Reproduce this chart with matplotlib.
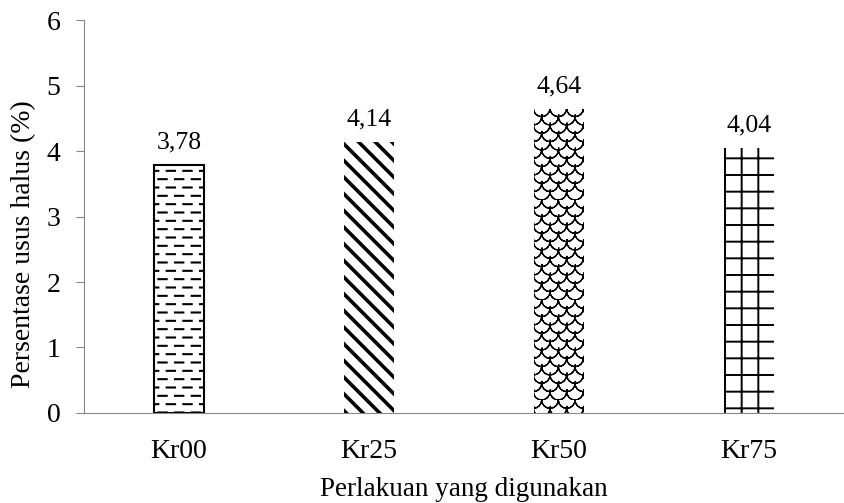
import matplotlib
matplotlib.use("Agg")
import numpy as np
import matplotlib.pyplot as plt
import matplotlib.hatch as mhatch
from matplotlib.path import Path

categories = ["Kr00", "Kr25", "Kr50", "Kr75"]
values = [3.78, 4.14, 4.64, 4.04]
value_labels = ["3,78", "4,14", "4,64", "4,04"]
# 'o' -> staggered dashes, 'O' -> fish scales (custom hatches defined below)
hatches = ["o", "\\\\", "O", "+"]
edge_widths = [1.5, 0, 0, 0]
hatch_widths = [1.5, 2.6, 0.9, 1.4]


class DashHatch(mhatch.HatchPatternBase):
    """Rows of short dashes, every other row shifted half a step."""
    def __init__(self, hatch, density):
        n = hatch.count("o")
        self.per_row = int(n * density)
        self.rows = 2 * self.per_row
        self.num_vertices = self.rows * (self.per_row + 1) * 2

    def set_vertices_and_codes(self, vertices, codes):
        step = 1.0 / self.per_row
        dash = step * 0.5
        k = 0
        for j in range(self.rows):
            y = (j + 0.5) / self.rows
            shift = 0.0 if j % 2 == 0 else step / 2
            for i in range(self.per_row + 1):
                x0 = i * step + shift - step / 2
                vertices[k] = (x0, y)
                vertices[k + 1] = (x0 + dash, y)
                codes[k] = Path.MOVETO
                codes[k + 1] = Path.LINETO
                k += 2


class ScaleHatch(mhatch.HatchPatternBase):
    """Overlapping half-circle arcs (fish scale look).
    Each arc is traced out and back so the agg hatch fill has no area."""
    seg = 9

    def __init__(self, hatch, density):
        n = hatch.count("O")
        self.per_row = int(n * density)
        self.rows = 2 * self.per_row
        self.num_vertices = self.rows * (self.per_row + 1) * (2 * self.seg - 1)

    def set_vertices_and_codes(self, vertices, codes):
        w = 1.0 / self.per_row
        r = w / 2
        t = np.linspace(np.pi, 2 * np.pi, self.seg)
        t = np.concatenate([t, t[-2::-1]])
        m = len(t)
        k = 0
        for j in range(1, self.rows + 1):
            cy = j / self.rows
            shift = 0.0 if j % 2 == 0 else w / 2
            for i in range(self.per_row + 1):
                cx = i * w + shift
                vertices[k:k + m, 0] = cx + r * np.cos(t)
                vertices[k:k + m, 1] = cy + r * np.sin(t)
                codes[k] = Path.MOVETO
                codes[k + 1:k + m] = Path.LINETO
                k += m


mhatch._hatch_types = [h for h in mhatch._hatch_types
                       if h not in (mhatch.SmallCircles, mhatch.LargeCircles)]
mhatch._hatch_types += [DashHatch, ScaleHatch]

plt.rcParams["font.family"] = ["Liberation Serif", "DejaVu Serif"]

fig = plt.figure(figsize=(8.44, 5.03), dpi=100)
ax = fig.add_axes([0.0995, 0.179, 0.9005, 0.781])

x = np.arange(len(categories))
bars = ax.bar(x, values, width=0.26, color="white", edgecolor="black",
              hatch=hatches)
for b, ew, hw in zip(bars, edge_widths, hatch_widths):
    b.set_linewidth(ew)
    if hasattr(b, "set_hatch_linewidth"):
        b.set_hatch_linewidth(hw)

for xi, v, lab in zip(x, values, value_labels):
    ax.annotate(lab, (xi, v), xytext=(0, 12), textcoords="offset points",
                ha="center", va="baseline", fontsize=18.5)

ax.set_xlim(-0.5, 3.5)
ax.set_ylim(0, 6)
ax.set_yticks(range(0, 7))
ax.set_xticks(x)
ax.set_xticklabels(categories)
ax.tick_params(axis="x", length=0, labelsize=20, pad=19)
ax.tick_params(axis="y", length=6, color="#888888", labelsize=20, pad=11)
ax.set_xlabel("Perlakuan yang digunakan", fontsize=19.5, labelpad=9)
ax.set_ylabel("Persentase usus halus (%)", fontsize=20)
ax.yaxis.set_label_coords(-0.063, 0.43)

for s in ["top", "right"]:
    ax.spines[s].set_visible(False)
for s in ["left", "bottom"]:
    ax.spines[s].set_color("#888888")

fig.savefig("out.png", dpi=100)
